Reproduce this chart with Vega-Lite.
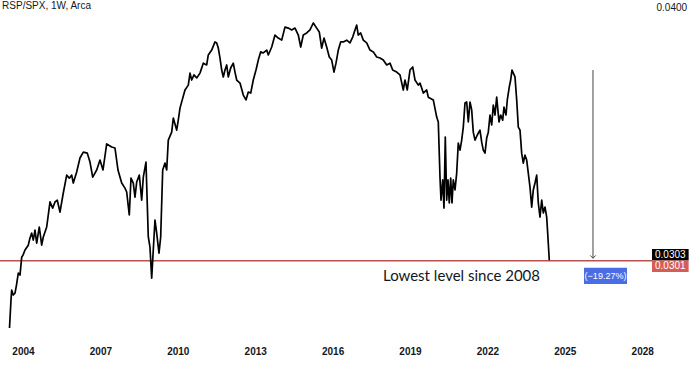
{
  "$schema": "https://vega.github.io/schema/vega-lite/v6.json",
  "width": 652,
  "height": 340,
  "padding": {"left": 0, "top": 0, "right": 38, "bottom": 42},
  "autosize": {"type": "none"},
  "background": "#ffffff",
  "config": {
    "view": {"stroke": null},
    "axis": {"grid": false, "domain": false, "ticks": false, "tickSize": 0, "title": null, "labelFont": "Liberation Sans", "labelColor": "#131722"}
  },
  "datasets": {
    "series": [
      {"t": 2003.477, "v": 0.02747}, {"t": 2003.535, "v": 0.02856}, {"t": 2003.562, "v": 0.02895}, {"t": 2003.624, "v": 0.02876},
      {"t": 2003.690, "v": 0.02883}, {"t": 2003.748, "v": 0.02915}, {"t": 2003.818, "v": 0.02962}, {"t": 2003.884, "v": 0.02954},
      {"t": 2003.950, "v": 0.03024}, {"t": 2004.000, "v": 0.03032}, {"t": 2004.078, "v": 0.03052}, {"t": 2004.205, "v": 0.03071},
      {"t": 2004.271, "v": 0.03099}, {"t": 2004.337, "v": 0.03118}, {"t": 2004.399, "v": 0.03091}, {"t": 2004.465, "v": 0.03130},
      {"t": 2004.531, "v": 0.03079}, {"t": 2004.632, "v": 0.03142}, {"t": 2004.725, "v": 0.03071}, {"t": 2004.787, "v": 0.03103},
      {"t": 2004.919, "v": 0.03142}, {"t": 2005.047, "v": 0.03240}, {"t": 2005.151, "v": 0.03216}, {"t": 2005.240, "v": 0.03240},
      {"t": 2005.329, "v": 0.03247}, {"t": 2005.434, "v": 0.03200}, {"t": 2005.562, "v": 0.03275}, {"t": 2005.694, "v": 0.03345},
      {"t": 2005.795, "v": 0.03333}, {"t": 2005.888, "v": 0.03345}, {"t": 2005.950, "v": 0.03314}, {"t": 2006.081, "v": 0.03357},
      {"t": 2006.209, "v": 0.03412}, {"t": 2006.337, "v": 0.03435}, {"t": 2006.492, "v": 0.03431}, {"t": 2006.597, "v": 0.03396},
      {"t": 2006.702, "v": 0.03337}, {"t": 2006.857, "v": 0.03365}, {"t": 2006.984, "v": 0.03404}, {"t": 2007.101, "v": 0.03365},
      {"t": 2007.244, "v": 0.03467}, {"t": 2007.438, "v": 0.03455}, {"t": 2007.566, "v": 0.03451}, {"t": 2007.682, "v": 0.03365},
      {"t": 2007.826, "v": 0.03314}, {"t": 2007.953, "v": 0.03294}, {"t": 2008.019, "v": 0.03279}, {"t": 2008.120, "v": 0.03189},
      {"t": 2008.186, "v": 0.03333}, {"t": 2008.275, "v": 0.03314}, {"t": 2008.341, "v": 0.03259}, {"t": 2008.407, "v": 0.03318},
      {"t": 2008.508, "v": 0.03345}, {"t": 2008.601, "v": 0.03247}, {"t": 2008.663, "v": 0.03337}, {"t": 2008.767, "v": 0.03396},
      {"t": 2008.857, "v": 0.03103}, {"t": 2008.922, "v": 0.03063}, {"t": 2008.988, "v": 0.02942}, {"t": 2009.050, "v": 0.03052},
      {"t": 2009.116, "v": 0.03169}, {"t": 2009.182, "v": 0.03118}, {"t": 2009.271, "v": 0.03040}, {"t": 2009.337, "v": 0.03103},
      {"t": 2009.415, "v": 0.03365}, {"t": 2009.504, "v": 0.03392}, {"t": 2009.570, "v": 0.03365}, {"t": 2009.632, "v": 0.03482},
      {"t": 2009.764, "v": 0.03513}, {"t": 2009.826, "v": 0.03568}, {"t": 2009.957, "v": 0.03521}, {"t": 2010.019, "v": 0.03560},
      {"t": 2010.085, "v": 0.03607}, {"t": 2010.279, "v": 0.03678}, {"t": 2010.407, "v": 0.03697}, {"t": 2010.473, "v": 0.03744},
      {"t": 2010.539, "v": 0.03717}, {"t": 2010.628, "v": 0.03737}, {"t": 2010.733, "v": 0.03725}, {"t": 2010.860, "v": 0.03744},
      {"t": 2010.988, "v": 0.03783}, {"t": 2011.120, "v": 0.03776}, {"t": 2011.182, "v": 0.03815}, {"t": 2011.314, "v": 0.03834},
      {"t": 2011.442, "v": 0.03866}, {"t": 2011.508, "v": 0.03862}, {"t": 2011.570, "v": 0.03842}, {"t": 2011.636, "v": 0.03803},
      {"t": 2011.702, "v": 0.03756}, {"t": 2011.764, "v": 0.03729}, {"t": 2011.829, "v": 0.03756}, {"t": 2011.895, "v": 0.03776},
      {"t": 2011.957, "v": 0.03729}, {"t": 2012.050, "v": 0.03764}, {"t": 2012.151, "v": 0.03783}, {"t": 2012.217, "v": 0.03748},
      {"t": 2012.283, "v": 0.03717}, {"t": 2012.411, "v": 0.03705}, {"t": 2012.539, "v": 0.03658}, {"t": 2012.643, "v": 0.03639},
      {"t": 2012.733, "v": 0.03670}, {"t": 2012.826, "v": 0.03666}, {"t": 2012.926, "v": 0.03717}, {"t": 2013.031, "v": 0.03756},
      {"t": 2013.120, "v": 0.03795}, {"t": 2013.213, "v": 0.03827}, {"t": 2013.314, "v": 0.03823}, {"t": 2013.446, "v": 0.03834},
      {"t": 2013.508, "v": 0.03815}, {"t": 2013.640, "v": 0.03846}, {"t": 2013.767, "v": 0.03893}, {"t": 2013.895, "v": 0.03881},
      {"t": 2014.027, "v": 0.03873}, {"t": 2014.155, "v": 0.03924}, {"t": 2014.283, "v": 0.03920}, {"t": 2014.415, "v": 0.03913},
      {"t": 2014.543, "v": 0.03920}, {"t": 2014.671, "v": 0.03893}, {"t": 2014.764, "v": 0.03846}, {"t": 2014.864, "v": 0.03893},
      {"t": 2014.996, "v": 0.03901}, {"t": 2015.124, "v": 0.03913}, {"t": 2015.252, "v": 0.03940}, {"t": 2015.384, "v": 0.03920},
      {"t": 2015.484, "v": 0.03905}, {"t": 2015.577, "v": 0.03842}, {"t": 2015.667, "v": 0.03881}, {"t": 2015.771, "v": 0.03846},
      {"t": 2015.872, "v": 0.03807}, {"t": 2015.965, "v": 0.03795}, {"t": 2016.054, "v": 0.03748}, {"t": 2016.132, "v": 0.03783},
      {"t": 2016.221, "v": 0.03834}, {"t": 2016.314, "v": 0.03866}, {"t": 2016.415, "v": 0.03866}, {"t": 2016.547, "v": 0.03873},
      {"t": 2016.674, "v": 0.03862}, {"t": 2016.779, "v": 0.03885}, {"t": 2016.868, "v": 0.03913}, {"t": 2016.934, "v": 0.03932},
      {"t": 2016.996, "v": 0.03893}, {"t": 2017.089, "v": 0.03901}, {"t": 2017.190, "v": 0.03873}, {"t": 2017.322, "v": 0.03862},
      {"t": 2017.450, "v": 0.03834}, {"t": 2017.578, "v": 0.03827}, {"t": 2017.709, "v": 0.03807}, {"t": 2017.837, "v": 0.03803},
      {"t": 2017.965, "v": 0.03795}, {"t": 2018.097, "v": 0.03776}, {"t": 2018.225, "v": 0.03783}, {"t": 2018.329, "v": 0.03756},
      {"t": 2018.484, "v": 0.03748}, {"t": 2018.612, "v": 0.03737}, {"t": 2018.740, "v": 0.03678}, {"t": 2018.806, "v": 0.03717},
      {"t": 2018.895, "v": 0.03678}, {"t": 2019.000, "v": 0.03756}, {"t": 2019.105, "v": 0.03768}, {"t": 2019.194, "v": 0.03717},
      {"t": 2019.322, "v": 0.03697}, {"t": 2019.388, "v": 0.03705}, {"t": 2019.516, "v": 0.03666}, {"t": 2019.647, "v": 0.03678},
      {"t": 2019.709, "v": 0.03650}, {"t": 2019.903, "v": 0.03639}, {"t": 2020.035, "v": 0.03572}, {"t": 2020.097, "v": 0.03553},
      {"t": 2020.163, "v": 0.03337}, {"t": 2020.202, "v": 0.03247}, {"t": 2020.267, "v": 0.03326}, {"t": 2020.318, "v": 0.03216},
      {"t": 2020.368, "v": 0.03494}, {"t": 2020.422, "v": 0.03247}, {"t": 2020.473, "v": 0.03326}, {"t": 2020.523, "v": 0.03236},
      {"t": 2020.578, "v": 0.03333}, {"t": 2020.628, "v": 0.03236}, {"t": 2020.678, "v": 0.03326}, {"t": 2020.744, "v": 0.03287},
      {"t": 2020.810, "v": 0.03353}, {"t": 2020.872, "v": 0.03470}, {"t": 2020.938, "v": 0.03443}, {"t": 2021.004, "v": 0.03482},
      {"t": 2021.066, "v": 0.03533}, {"t": 2021.132, "v": 0.03627}, {"t": 2021.198, "v": 0.03631}, {"t": 2021.260, "v": 0.03553},
      {"t": 2021.326, "v": 0.03631}, {"t": 2021.391, "v": 0.03600}, {"t": 2021.453, "v": 0.03513}, {"t": 2021.519, "v": 0.03482},
      {"t": 2021.609, "v": 0.03502}, {"t": 2021.713, "v": 0.03521}, {"t": 2021.779, "v": 0.03474}, {"t": 2021.841, "v": 0.03443},
      {"t": 2021.907, "v": 0.03431}, {"t": 2021.973, "v": 0.03490}, {"t": 2022.035, "v": 0.03513}, {"t": 2022.101, "v": 0.03580},
      {"t": 2022.167, "v": 0.03541}, {"t": 2022.229, "v": 0.03619}, {"t": 2022.295, "v": 0.03580}, {"t": 2022.360, "v": 0.03650},
      {"t": 2022.450, "v": 0.03553}, {"t": 2022.516, "v": 0.03580}, {"t": 2022.593, "v": 0.03560}, {"t": 2022.643, "v": 0.03611},
      {"t": 2022.721, "v": 0.03580}, {"t": 2022.771, "v": 0.03639}, {"t": 2022.849, "v": 0.03690}, {"t": 2022.903, "v": 0.03717},
      {"t": 2022.953, "v": 0.03756}, {"t": 2023.004, "v": 0.03744}, {"t": 2023.070, "v": 0.03729}, {"t": 2023.136, "v": 0.03639},
      {"t": 2023.198, "v": 0.03533}, {"t": 2023.264, "v": 0.03521}, {"t": 2023.329, "v": 0.03431}, {"t": 2023.391, "v": 0.03392},
      {"t": 2023.457, "v": 0.03423}, {"t": 2023.523, "v": 0.03404}, {"t": 2023.585, "v": 0.03353}, {"t": 2023.651, "v": 0.03298},
      {"t": 2023.717, "v": 0.03220}, {"t": 2023.779, "v": 0.03287}, {"t": 2023.845, "v": 0.03314}, {"t": 2023.911, "v": 0.03345},
      {"t": 2023.973, "v": 0.03236}, {"t": 2024.039, "v": 0.03181}, {"t": 2024.105, "v": 0.03247}, {"t": 2024.167, "v": 0.03197},
      {"t": 2024.233, "v": 0.03220}, {"t": 2024.298, "v": 0.03181}, {"t": 2024.337, "v": 0.03118}, {"t": 2024.399, "v": 0.03012}
    ],
    "level": [{"v": 0.0301}],
    "arrow": [{"t": 2026.093, "top": 0.03756, "bottom": 0.03020}],
    "boxes": [
      {"t1": 2028.38, "t2": 2029.80, "v1": 0.03056, "v2": 0.03011, "fill": "#000000"},
      {"t1": 2028.38, "t2": 2029.80, "v1": 0.03011, "v2": 0.02966, "fill": "#d65c58"},
      {"t1": 2025.744, "t2": 2027.411, "v1": 0.02983, "v2": 0.02919, "fill": "#4a6de5"}
    ],
    "boxlabels": [
      {"t": 2029.09, "v": 0.03033, "label": "0.0303"},
      {"t": 2029.09, "v": 0.02988, "label": "0.0301"}
    ],
    "pct": [
      {"t": 2026.578, "v": 0.02951, "label": "(−19.27%)"}
    ],
    "notes": [
      {"t": 2003.19, "v": 0.04005, "label": "RSP/SPX, 1W, Arca"}
    ],
    "caption": [
      {"t": 2017.953, "v": 0.02950, "label": "Lowest level since 2008"}
    ]
  },
  "layer": [
    {
      "data": {"name": "level"},
      "mark": {"type": "rule", "color": "#b9524c", "strokeWidth": 1.3},
      "encoding": {"y": {"field": "v", "type": "quantitative", "scale": {"domain": [0.0270, 0.0403]}}}
    },
    {
      "data": {"name": "series"},
      "mark": {"type": "line", "color": "#000000", "strokeWidth": 1.7, "strokeJoin": "round"},
      "encoding": {
        "x": {"field": "t", "type": "quantitative", "scale": {"domain": [2003.109, 2028.38], "nice": false, "zero": false},
              "axis": {"values": [2004, 2007, 2010, 2013, 2016, 2019, 2022, 2025, 2028], "format": "d", "labelFontSize": 10, "labelFontWeight": "bold", "labelPadding": 6, "labelBaseline": "top"}},
        "y": {"field": "v", "type": "quantitative", "scale": {"domain": [0.0270, 0.0403], "nice": false, "zero": false},
              "axis": {"orient": "right", "values": [0.04], "format": ".4f", "labelFontSize": 10, "labelPadding": 4}}
      }
    },
    {
      "data": {"name": "arrow"},
      "mark": {"type": "rule", "color": "#444444", "strokeWidth": 1},
      "encoding": {
        "x": {"field": "t", "type": "quantitative"},
        "y": {"field": "top", "type": "quantitative"},
        "y2": {"field": "bottom"}
      }
    },
    {
      "data": {"name": "arrow"},
      "mark": {"type": "point", "shape": "M-1,-1L0,0L1,-1", "filled": false, "size": 30, "stroke": "#444444", "strokeWidth": 1, "opacity": 1},
      "encoding": {
        "x": {"field": "t", "type": "quantitative"},
        "y": {"field": "bottom", "type": "quantitative"}
      }
    },
    {
      "data": {"name": "boxes"},
      "mark": {"type": "rect"},
      "encoding": {
        "x": {"field": "t1", "type": "quantitative"},
        "x2": {"field": "t2"},
        "y": {"field": "v1", "type": "quantitative"},
        "y2": {"field": "v2"},
        "fill": {"field": "fill", "type": "nominal", "scale": null}
      }
    },
    {
      "data": {"name": "boxlabels"},
      "mark": {"type": "text", "color": "#ffffff", "fontSize": 10, "font": "Liberation Sans", "align": "center", "baseline": "middle"},
      "encoding": {
        "x": {"field": "t", "type": "quantitative"},
        "y": {"field": "v", "type": "quantitative"},
        "text": {"field": "label"}
      }
    },
    {
      "data": {"name": "pct"},
      "mark": {"type": "text", "color": "#ffffff", "fontSize": 9, "font": "Liberation Sans", "align": "center", "baseline": "middle"},
      "encoding": {
        "x": {"field": "t", "type": "quantitative"},
        "y": {"field": "v", "type": "quantitative"},
        "text": {"field": "label"}
      }
    },
    {
      "data": {"name": "notes"},
      "mark": {"type": "text", "color": "#131722", "fontSize": 10, "font": "Liberation Sans", "align": "left", "baseline": "middle"},
      "encoding": {
        "x": {"field": "t", "type": "quantitative"},
        "y": {"field": "v", "type": "quantitative"},
        "text": {"field": "label"}
      }
    },
    {
      "data": {"name": "caption"},
      "mark": {"type": "text", "color": "#131722", "fontSize": 15, "font": "Lato", "align": "left", "baseline": "middle"},
      "encoding": {
        "x": {"field": "t", "type": "quantitative"},
        "y": {"field": "v", "type": "quantitative"},
        "text": {"field": "label"}
      }
    }
  ]
}
